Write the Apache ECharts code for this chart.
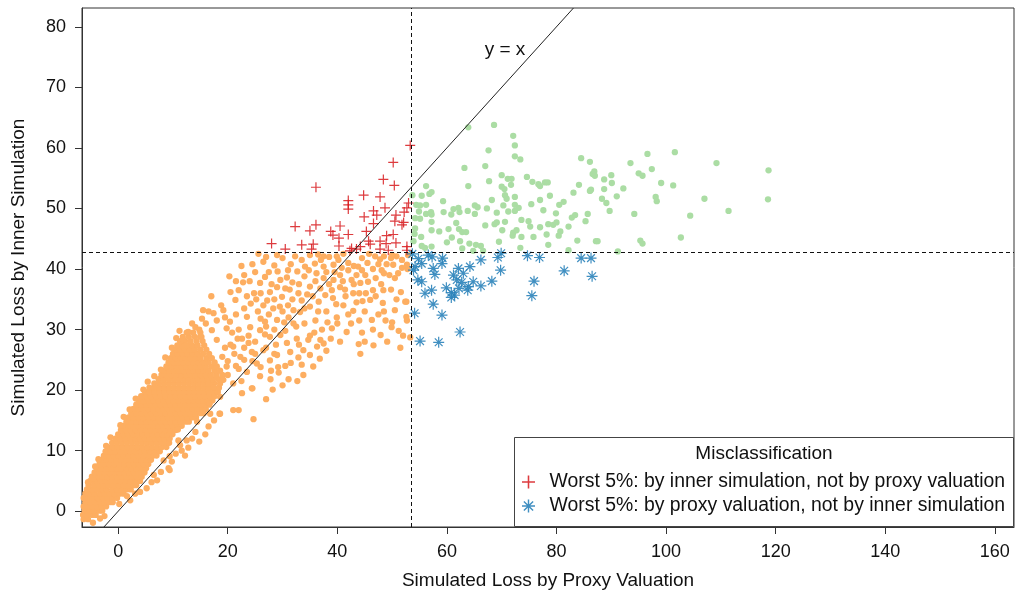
<!DOCTYPE html>
<html>
<head>
<meta charset="utf-8">
<script src="https://cdn.jsdelivr.net/npm/echarts@6.0.0/dist/echarts.min.js"></script>
<style>
  html, body { margin: 0; padding: 0; background: #fff; }
  #chart { width: 1016px; height: 597px; }
</style>
</head>
<body>
<div id="chart"></div>
<script>
// Worst-5% thresholds for each valuation method
const proxyCut = 53.5;
const innerCut = 42.8;

const xTicks = [0, 20, 40, 60, 80, 100, 120, 140, 160];
const yTicks = [0, 10, 20, 30, 40, 50, 60, 70, 80];
const xLimits = [-6.6, 163.5];
const yLimits = [-2.6, 83.1];

// Scenarios outside the worst 5% for both methods: dense core, one row per inner-loss level [y, x, x, ...]
const coreRows = [
  [-1.3, -6.3, -5.5],
  [-0.6, -6.4, -5.6, -4.7, -4.1],
  [0.1, -6.1, -5.2, -4.4, -3.4, -2.9],
  [0.8, -6.3, -5.6, -4.7, -3.8, -3.0, -2.2],
  [1.5, -6.0, -5.1, -4.2, -3.3, -2.5, -1.6, -1.0],
  [2.2, -6.3, -5.5, -4.6, -3.7, -2.8, -1.9, -1.1, -0.2],
  [2.9, -6.0, -5.1, -4.3, -3.3, -2.4, -1.5, -0.6, 0.3, 1.0],
  [3.6, -5.7, -4.7, -3.8, -2.9, -2.1, -1.1, -0.2, 0.7, 1.6, 2.3],
  [4.3, -5.4, -4.4, -3.5, -2.6, -1.7, -0.8, 0.1, 1.0, 1.9, 2.8, 3.3],
  [5.0, -5.1, -4.1, -3.2, -2.3, -1.4, -0.5, 0.4, 1.3, 2.2, 3.1, 4.0],
  [5.7, -4.8, -3.8, -2.9, -2.0, -1.1, -0.2, 0.7, 1.6, 2.5, 3.4, 4.3],
  [6.4, -4.3, -3.4, -2.5, -1.6, -0.7, 0.2, 1.1, 2.0, 2.9, 3.8, 4.8],
  [7.1, -3.9, -3.0, -2.1, -1.2, -0.3, 0.6, 1.5, 2.4, 3.3, 4.2, 5.1],
  [7.8, -3.4, -2.5, -1.6, -0.7, 0.2, 1.1, 2.0, 2.9, 3.8, 4.7, 5.5],
  [8.5, -3.0, -2.1, -1.2, -0.3, 0.6, 1.5, 2.4, 3.3, 4.2, 5.1, 6.0],
  [9.2, -2.6, -1.7, -0.8, 0.1, 1.0, 1.9, 2.8, 3.7, 4.6, 5.5, 6.4, 7.0],
  [9.9, -2.3, -1.4, -0.5, 0.4, 1.3, 2.2, 3.1, 4.0, 4.9, 5.8, 6.7, 7.6],
  [10.6, -1.9, -1.0, -0.1, 0.8, 1.7, 2.6, 3.5, 4.4, 5.3, 6.2, 7.1, 8.0, 8.8],
  [11.3, -1.1, -0.2, 0.7, 1.6, 2.5, 3.4, 4.3, 5.2, 6.1, 7.0, 7.9, 8.8, 9.3],
  [12.0, -0.5, 0.4, 1.3, 2.2, 3.1, 4.0, 4.9, 5.8, 6.7, 7.6, 8.5, 9.4],
  [12.7, 0.0, 0.9, 1.8, 2.7, 3.6, 4.5, 5.4, 6.3, 7.2, 8.1, 9.0, 9.9],
  [13.4, 0.5, 1.4, 2.3, 3.2, 4.1, 5.0, 5.9, 6.8, 7.7, 8.6, 9.5, 10.5],
  [14.1, 1.0, 1.9, 2.8, 3.7, 4.6, 5.5, 6.4, 7.3, 8.2, 9.1, 10.0, 10.9, 11.6],
  [14.8, 1.5, 2.4, 3.3, 4.2, 5.1, 6.0, 6.9, 7.8, 8.7, 9.6, 10.5, 11.4, 12.3, 12.9],
  [15.5, 1.9, 2.8, 3.7, 4.6, 5.5, 6.4, 7.3, 8.2, 9.1, 10.0, 10.9, 11.8, 12.7, 13.6, 14.2],
  [16.2, 2.4, 3.3, 4.2, 5.1, 6.0, 6.9, 7.8, 8.7, 9.6, 10.5, 11.4, 12.3, 13.2, 14.1, 15.0, 15.6],
  [16.9, 2.8, 3.7, 4.6, 5.5, 6.4, 7.3, 8.2, 9.1, 10.0, 10.9, 11.8, 12.7, 13.6, 14.5, 15.4, 16.0],
  [17.6, 3.3, 4.2, 5.1, 6.0, 6.9, 7.8, 8.7, 9.6, 10.5, 11.4, 12.3, 13.2, 14.1, 15.0, 15.9, 16.6],
  [18.3, 3.8, 4.7, 5.6, 6.5, 7.4, 8.3, 9.2, 10.1, 11.0, 11.9, 12.8, 13.7, 14.6, 15.5, 16.4, 17.2],
  [19.0, 4.2, 5.1, 6.0, 6.9, 7.8, 8.7, 9.6, 10.5, 11.4, 12.3, 13.2, 14.1, 15.0, 15.9, 16.8, 17.6],
  [19.7, 4.9, 5.8, 6.7, 7.6, 8.5, 9.4, 10.3, 11.2, 12.1, 13.0, 13.9, 14.8, 15.7, 16.6, 17.5, 18.2],
  [20.4, 5.7, 6.6, 7.5, 8.4, 9.3, 10.2, 11.1, 12.0, 12.9, 13.8, 14.7, 15.6, 16.5, 17.4, 18.4],
  [21.1, 6.6, 7.5, 8.4, 9.3, 10.2, 11.1, 12.0, 12.9, 13.8, 14.7, 15.6, 16.5, 17.5, 18.6],
  [21.8, 7.4, 8.3, 9.2, 10.1, 11.0, 11.9, 12.8, 13.7, 14.6, 15.5, 16.4, 17.3, 18.3],
  [22.5, 7.9, 8.8, 9.7, 10.6, 11.5, 12.4, 13.3, 14.2, 15.1, 16.0, 16.9, 17.9, 19.0],
  [23.2, 8.4, 9.3, 10.2, 11.1, 12.0, 12.9, 13.8, 14.7, 15.6, 16.5, 17.6, 18.6],
  [23.9, 8.8, 9.7, 10.6, 11.5, 12.4, 13.3, 14.2, 15.1, 16.0, 17.0, 18.0],
  [24.6, 9.2, 10.1, 11.0, 11.9, 12.8, 13.7, 14.6, 15.5, 16.5, 17.6],
  [25.3, 9.6, 10.5, 11.4, 12.3, 13.2, 14.1, 15.0, 16.1, 17.1],
  [26.0, 10.0, 10.9, 11.8, 12.7, 13.6, 14.5, 15.5, 16.6],
  [26.7, 10.4, 11.3, 12.2, 13.1, 14.0, 15.0, 16.1],
  [27.4, 10.8, 11.7, 12.6, 13.5, 14.5, 15.7],
  [28.1, 11.3, 12.2, 13.2, 14.3, 15.4],
  [28.8, 11.8, 12.9, 14.0, 15.2],
  [29.5, 12.5, 13.7, 15.0]
];

// Same group, scattered scenarios away from the core [x, y, x, y, ...]
const neitherOuter = [
  -4.6, -1.9, 1.6, 2.5, 3.1, 2.9, 6.1, 4.8, 7.1, 5.1, 9.2, 7.1, 9.4, 6.8, 8.3, 8.4,
  11.3, 10.9, 11.6, 10.0, 11.0, 11.7, 12.5, 11.7, 14.1, 13.1, 15.9, 12.7, 14.4, 14.8,
  16.8, 16.1, 18.6, 16.1, 21.0, 16.7, 22.0, 16.7, 24.7, 15.2, 24.5, 20.3, 28.2, 20.1,
  10.9, 13.5, 9.4, 9.1, -4.6, 5.4,
  25.6, 42.5, 20.3, 38.8, 29.1, 39.6, 32.7, 39.6, 34.1, 40.4, 35.9, 40.9, 37.5, 40.4,
  39.3, 40.7, 32.3, 42.1, 35.0, 42.3, 37.5, 42.1, 39.9, 42.1, 41.1, 42.5, 43.8, 40.4,
  44.5, 39.8, 46.9, 42.1, 47.8, 41.6, 48.5, 42.1, 49.8, 41.8, 50.8, 42.1, 51.1, 39.3,
  50.2, 40.7, 48.1, 39.8, 48.5, 39.3, 45.1, 39.0, 42.6, 38.2, 44.2, 37.7, 41.4, 36.6,
  42.9, 36.0, 45.6, 37.9, 48.4, 36.5, 49.8, 36.6, 51.6, 36.2, 52.6, 34.6, 48.3, 34.4,
  46.0, 34.9, 44.6, 34.7, 42.9, 33.1, 41.1, 34.0, 39.8, 34.2, 39.9, 32.0, 46.3, 31.6,
  49.9, 30.4, 51.2, 29.8, 53.3, 28.7, 47.9, 29.1, 49.1, 28.0, 46.6, 27.4, 43.9, 27.6,
  44.2, 26.0, 41.7, 29.6, 39.0, 30.2, 36.3, 27.2, 35.6, 23.9, 32.9, 25.4, 31.1, 21.8,
  32.7, 21.5, 29.3, 22.9, 25.9, 22.3, 24.4, 20.3, 18.5, 16.1, 27.9, 23.2, 27.7, 24.9,
  31.4, 26.3, 33.8, 26.6, 35.0, 25.8, 36.9, 28.3, 37.5, 27.7, 34.7, 28.3, 32.6, 28.5,
  29.6, 29.1, 27.7, 28.8, 25.9, 29.9, 24.1, 30.4, 22.6, 28.5, 26.8, 31.3, 29.0, 31.6,
  31.1, 32.0, 33.2, 32.9, 35.0, 33.8, 36.6, 34.6, 37.8, 35.7, 39.0, 36.5, 36.9, 36.8,
  35.0, 37.1, 32.9, 36.0, 31.3, 36.6, 29.9, 35.4, 27.7, 36.2, 25.9, 37.7, 24.8, 36.0,
  24.2, 34.3, 26.5, 34.0, 28.3, 33.5, 29.6, 38.2, 30.8, 38.6, 26.8, 38.7, 36.2, 39.3,
  37.5, 38.5, 39.3, 38.2, 40.5, 39.0, 21.4, 34.9, 17.4, 32.7, 19.2, 33.2, 15.3, 31.8,
  20.4, 31.3, 23.5, 32.1, 14.1, 30.4, 17.1, 29.9, 19.8, 30.2, 11.9, 28.3, 15.0, 28.8,
  18.0, 28.3, 21.0, 27.2, 24.4, 26.3, 26.5, 26.6, 22.3, 25.5, 25.3, 24.4, 19.8, 23.9,
  23.5, 23.0, 19.2, 21.7, 17.4, 20.5, 21.0, 21.1, 22.6, 19.5, 18.6, 18.9, 16.7, 17.8,
  22.0, 30.0, 23.0, 33.5, 21.5, 32.5, 25.0, 28.0, 27.0, 27.0, 28.5, 26.0, 23.0, 27.0,
  25.5, 33.0, 27.5, 32.5, 28.5, 35.0, 22.0, 36.5, 24.0, 38.0, 23.5, 35.5, 26.0, 36.0,
  29.0, 37.0, 27.0, 30.5, 20.8, 29.5, 22.0, 23.5, 24.5, 24.8, 26.0, 23.8, 28.8, 27.5,
  21.2, 26.0, 23.8, 29.0, 20.5, 36.2, 22.8, 37.8, 25.0, 39.5,
  31.0, 34.0, 32.5, 30.5, 34.0, 31.0, 36.0, 31.5, 38.0, 33.0, 30.5, 29.8, 33.5, 34.8,
  35.5, 35.5, 38.5, 37.5, 40.5, 37.0, 31.8, 37.8, 34.0, 38.8, 30.0, 33.0, 37.2, 30.0,
  38.8, 28.5, 40.0, 31.0, 35.8, 29.5, 33.0, 27.5, 30.3, 31.2, 41.5, 35.5, 40.2, 41.5,
  33.5, 41.5, 31.5, 40.8, 28.5, 40.6, 30.0, 41.8, 38.5, 42.0, 36.5, 42.4,
  42.0, 41.0, 43.0, 40.5, 45.5, 41.0, 46.5, 40.0, 47.0, 38.5, 44.0, 36.0, 43.5, 39.0,
  46.5, 36.5, 50.5, 38.5, 51.8, 41.5, 52.8, 40.0, 49.0, 40.8, 45.0, 33.0, 47.5, 32.5,
  50.5, 33.2, 52.7, 31.5, 48.8, 31.5, 42.5, 31.0, 44.5, 29.5, 51.5, 27.0, 52.7, 40.7,
  52.4, 34.6, 52.6, 32.1, 27.0, 18.5, 30.5, 24.0, 29.0, 25.8,
  12.8, 29.6, 13.5, 31.0, 14.8, 30.0, 16.0, 31.0, 16.5, 33.0, 18.0, 31.5, 18.8, 34.0,
  19.5, 32.0, 17.0, 35.5, 15.5, 33.2, 19.0, 25.5, 20.0, 24.8, 20.5, 27.5, 21.8, 28.5,
  22.5, 21.5, 23.0, 25.0, 20.0, 22.5, 21.5, 24.0, 19.5, 27.0,
  24.5, 40.8, 26.5, 41.2, 27.5, 39.5, 28.0, 37.5, 30.5, 36.8, 31.8, 35.0, 29.5, 33.8,
  27.2, 34.8, 25.2, 35.0, 23.0, 39.0, 21.5, 38.0, 22.5, 40.5, 27.0, 42.0, 29.0, 42.3,
  31.0, 39.8, 32.0, 33.2, 33.0, 37.5, 34.5, 35.8, 34.8, 39.8, 36.0, 38.0, 37.0, 41.5,
  38.0, 39.5, 39.5, 39.5, 40.8, 40.2, 42.0, 39.8, 43.0, 37.5, 44.5, 41.8, 45.8, 42.5,
  47.5, 40.8, 49.5, 39.0, 50.0, 42.3, 51.8, 40.2, 52.9, 42.3, 47.0, 35.5, 48.0, 37.5,
  50.8, 35.0, 43.5, 34.5, 45.2, 36.0, 41.0, 38.0, 39.2, 35.2, 36.5, 33.0, 34.0, 33.5,
  32.0, 31.0, 30.8, 27.8, 28.5, 30.0, 26.0, 31.8, 25.0, 26.0, 23.8, 27.8, 26.8, 29.2,
  29.2, 23.8, 31.5, 24.5, 33.5, 24.2, 35.0, 29.0, 38.2, 31.2, 42.0, 32.5, 44.0, 31.5,
  46.5, 30.0, 48.5, 33.0, 50.0, 31.2, 52.0, 29.0, 45.0, 28.0, 40.5, 28.0, 38.0, 26.5,
  33.8, 22.5, 30.0, 20.8, 36.8, 25.2, 27.8, 21.8,
  9.8, 8.2, 10.5, 9.5, 12.8, 10.5, 13.5, 12.0, 14.8, 11.5, 16.5, 14.0, 17.5, 15.0,
  12.2, 9.2, 7.8, 6.5, 6.5, 6.0, 5.2, 3.8, 4.0, 3.2, 2.2, 1.8, 0.2, 1.2, -2.5, -0.8,
  -3.3, -1.2, -5.5, 4.8, -4.2, 7.4, -3.6, 8.6, -2.2, 10.8, -1.4, 12.2, 0.4, 14.2,
  1.0, 15.6, 2.1, 16.8, 3.2, 18.6, 4.6, 20.1, 5.4, 21.4, 6.6, 22.3, 7.8, 23.4,
  8.6, 25.4, 9.8, 27.0, 10.6, 28.6, 11.2, 29.8
];

// Worst 5% under both methods [x, y, ...]
const bothWorst = [
  63.9, 63.4, 68.6, 63.8, 72.1, 62.0, 67.6, 59.6, 72.4, 60.4, 72.4, 58.6, 73.4, 58.1,
  67.0, 57.0, 63.2, 56.7, 84.5, 58.3, 70.0, 55.5, 71.1, 54.9, 71.8, 54.9, 74.6, 55.2,
  67.7, 54.5, 75.6, 54.4, 63.9, 53.7, 70.0, 53.6, 70.5, 53.2, 71.7, 53.9, 76.7, 54.0,
  77.0, 53.7, 77.9, 54.3, 78.4, 54.3, 84.1, 53.9, 86.1, 52.9, 56.2, 53.7, 57.2, 52.7,
  56.8, 52.4, 55.4, 52.1, 53.7, 52.2, 70.6, 52.2, 70.9, 51.6, 72.4, 51.9, 77.0, 51.4,
  78.8, 52.1, 83.1, 52.6, 54.4, 50.6, 55.1, 50.5, 56.2, 50.6, 59.3, 51.2, 62.1, 50.1,
  61.2, 49.9, 65.1, 50.5, 65.6, 50.2, 67.3, 50.0, 68.2, 51.4, 70.3, 50.5, 72.4, 50.6,
  73.1, 50.1, 75.4, 50.7, 80.5, 50.6, 81.3, 51.1, 54.9, 49.5, 56.2, 49.1, 57.1, 49.4,
  57.2, 49.0, 59.4, 49.4, 60.8, 49.0, 62.3, 49.4, 63.8, 49.6, 65.1, 49.1, 69.1, 49.3,
  71.2, 49.5, 72.4, 49.6, 77.6, 49.7, 79.9, 49.2, 82.8, 48.5, 83.4, 48.9, 85.7, 49.1,
  54.2, 48.4, 55.1, 48.3, 57.2, 47.8, 61.7, 47.6, 60.3, 46.6, 62.2, 46.6, 62.8, 46.1,
  63.5, 46.1, 67.0, 47.2, 68.7, 47.4, 69.1, 47.7, 70.6, 47.8, 70.1, 46.4, 72.1, 46.0,
  72.7, 46.4, 73.6, 48.1, 74.9, 47.9, 75.2, 47.0, 77.0, 46.9, 78.5, 47.4, 79.4, 47.3,
  80.0, 47.7, 80.7, 46.2, 82.2, 47.0, 85.3, 47.9, 54.2, 46.7, 54.1, 45.8, 57.2, 46.4,
  58.6, 46.2, 55.3, 45.3, 60.9, 45.2, 60.0, 44.4, 62.4, 44.6, 64.1, 44.2, 65.3, 44.0,
  66.2, 43.8, 72.0, 45.5, 73.6, 45.3, 75.8, 45.3, 78.2, 45.7, 78.5, 44.0, 80.4, 45.5,
  83.8, 44.7, 53.9, 44.6, 55.4, 43.8, 56.0, 43.5, 57.2, 43.7, 62.8, 43.4, 64.8, 43.0,
  69.5, 44.5, 73.4, 43.5, 82.2, 43.1, 66.6, 43.0,
  86.1, 57.7, 86.9, 56.1, 86.6, 55.7, 87.0, 55.4, 88.7, 54.8, 90.0, 55.5, 90.1, 54.2,
  88.7, 53.2, 86.3, 53.1, 92.2, 53.3, 93.5, 57.5, 96.6, 59.0, 101.6, 59.3, 95.0, 55.8,
  95.7, 55.4, 97.4, 56.5, 99.1, 54.2, 101.3, 53.8, 109.2, 57.5, 118.7, 56.3, 91.0, 52.0,
  88.3, 51.6, 89.1, 50.9, 98.1, 51.9, 98.3, 51.2, 107.0, 51.6, 118.6, 51.5, 89.7, 49.6,
  94.2, 49.1, 104.4, 48.8, 111.4, 49.6, 87.2, 44.6, 87.5, 44.6, 95.3, 44.7, 95.7, 44.2,
  102.7, 45.2, 91.2, 42.9
];

// Worst 5% by inner simulation only [x, y, ...]
const innerOnly = [
  53.3, 60.4, 50.2, 57.6, 48.4, 54.8, 50.4, 53.8, 36.1, 53.5, 44.8, 52.2, 47.8, 51.9,
  42.0, 51.3, 42.0, 50.6, 42.0, 49.9, 53.0, 50.9, 52.7, 50.1, 48.7, 50.1, 46.6, 49.6,
  47.2, 48.9, 52.2, 49.4, 44.9, 48.6, 50.7, 48.9, 46.6, 47.5, 50.5, 47.9, 52.1, 47.7,
  51.8, 47.3, 36.1, 47.3, 32.3, 47.0, 40.5, 47.1, 35.0, 46.3, 38.8, 46.2, 39.2, 45.6,
  42.0, 45.7, 45.3, 46.2, 50.2, 45.7, 49.0, 45.5, 40.3, 45.1, 45.7, 44.6, 47.8, 44.6,
  46.0, 44.1, 48.9, 44.2, 50.7, 44.3, 28.0, 44.2, 33.5, 44.0, 35.6, 44.1, 40.3, 43.8,
  44.2, 43.7, 35.3, 43.3, 30.5, 43.3, 42.6, 43.4, 43.5, 43.3, 47.8, 43.3, 49.3, 43.1,
  52.7, 43.1, 52.7, 43.7, 42.3, 43.0
];

// Worst 5% by proxy valuation only [x, y, ...]
const proxyOnly = [
  53.7, 42.5, 69.9, 42.6, 54.8, 41.7, 56.6, 42.3, 57.3, 42.0, 59.2, 41.8, 66.2, 41.5,
  69.3, 41.9, 74.7, 42.2, 76.9, 41.9, 84.5, 41.8, 86.3, 41.8, 55.4, 40.9, 59.1, 40.9,
  53.9, 39.8, 54.2, 40.4, 57.5, 40.1, 62.1, 40.1, 64.2, 40.4, 69.8, 39.8, 81.4, 39.7,
  86.5, 38.8, 57.8, 39.1, 61.2, 39.0, 63.0, 39.3, 54.7, 38.2, 55.4, 37.9, 61.8, 38.2,
  62.7, 37.8, 64.8, 37.9, 68.2, 38.0, 75.9, 38.0, 63.9, 37.1, 66.2, 37.2, 59.9, 36.9,
  57.2, 36.5, 60.8, 36.1, 62.2, 36.8, 56.0, 36.0, 63.8, 36.5, 61.4, 35.7, 75.5, 35.6,
  60.8, 35.3, 57.5, 34.2, 54.1, 32.7, 59.1, 32.4, 62.4, 29.6, 55.1, 28.1, 58.5, 27.9
];

const innerName = 'Worst 5%: by inner simulation, not by proxy valuation';
const proxyName = 'Worst 5%: by proxy valuation, not by inner simulation';

function pairs(flat) {
  const out = [];
  for (let i = 0; i < flat.length; i += 2) out.push([flat[i], flat[i + 1]]);
  return out;
}
function rowsToPairs(rows) {
  const out = [];
  rows.forEach(r => { for (let i = 1; i < r.length; i++) out.push([r[i], r[0]]); });
  return out;
}

const FONT = '"Liberation Sans", Arial, Helvetica, sans-serif';
const plusPath = 'path://M4.4,0L5.6,0L5.6,4.4L10,4.4L10,5.6L5.6,5.6L5.6,10L4.4,10L4.4,5.6L0,5.6L0,4.4L4.4,4.4Z';
const starPath = 'path://M4.45,0L5.55,0L5.55,10L4.45,10Z M0,4.45L10,4.45L10,5.55L0,5.55Z ' +
  'M1.85,1.07L8.93,8.15L8.15,8.93L1.07,1.85Z M8.15,1.07L8.93,1.85L1.85,8.93L1.07,8.15Z';

const chart = echarts.init(document.getElementById('chart'), null, { renderer: 'canvas' });

const axisCommon = {
  type: 'value',
  nameLocation: 'middle',
  nameTextStyle: { fontSize: 19, color: '#111', fontFamily: FONT },
  axisLine: { show: true, onZero: false, lineStyle: { color: '#333', width: 1 } },
  splitLine: { show: false }
};

chart.setOption({
  animation: false,
  backgroundColor: '#fff',
  textStyle: { fontFamily: FONT },
  grid: {
    left: 82, right: 2, top: 8, bottom: 70,
    show: true, borderColor: '#333', borderWidth: 1, backgroundColor: 'transparent'
  },
  xAxis: Object.assign({}, axisCommon, {
    min: xLimits[0], max: xLimits[1],
    name: 'Simulated Loss by Proxy Valuation', nameGap: 44,
    axisTick: { show: true, inside: false, length: 7, customValues: xTicks, lineStyle: { color: '#333' } },
    axisLabel: { customValues: xTicks, fontSize: 18, color: '#111', margin: 16, fontFamily: FONT }
  }),
  yAxis: Object.assign({}, axisCommon, {
    min: yLimits[0], max: yLimits[1],
    name: 'Simulated Loss by Inner Simulation', nameGap: 54,
    axisTick: { show: true, inside: false, length: 7, customValues: yTicks, lineStyle: { color: '#333' } },
    axisLabel: { customValues: yTicks, fontSize: 18, color: '#111', margin: 16, fontFamily: FONT }
  }),
  legend: {
    data: [innerName, proxyName],
    orient: 'vertical', left: 522, top: 472, padding: 0,
    itemWidth: 32, itemHeight: 13, itemGap: 4,
    selectedMode: false, z: 6,
    textStyle: { fontSize: 19.4, color: '#111', fontFamily: FONT, lineHeight: 20 }
  },
  graphic: [
    { type: 'rect', z: 5, shape: { x: 514.5, y: 437.5, width: 499, height: 89 },
      style: { fill: '#fff', stroke: '#444', lineWidth: 1 } },
    { type: 'text', z: 7, x: 764, y: 454,
      style: { text: 'Misclassification', fill: '#111', font: '19px ' + FONT,
               textAlign: 'center', textVerticalAlign: 'middle' } }
  ],
  series: [
    {
      name: 'neither', type: 'scatter', symbol: 'circle', symbolSize: 6.3,
      itemStyle: { color: '#FDAE61', opacity: 1 },
      data: rowsToPairs(coreRows).concat(pairs(neitherOuter)), z: 2
    },
    {
      name: 'both', type: 'scatter', symbol: 'circle', symbolSize: 6.3,
      itemStyle: { color: '#ABDDA4', opacity: 1 },
      data: pairs(bothWorst), z: 2
    },
    {
      name: innerName, type: 'scatter', symbol: plusPath, symbolSize: 10,
      itemStyle: { color: '#D7191C', opacity: 0.85 },
      data: pairs(innerOnly), z: 3
    },
    {
      name: proxyName, type: 'scatter', symbol: starPath, symbolSize: 11,
      itemStyle: { color: '#2B83BA', opacity: 0.9 },
      data: pairs(proxyOnly), z: 3
    },
    {
      name: 'identity', type: 'line', symbol: 'none', clip: true, z: 4, silent: true,
      lineStyle: { color: '#222', width: 1 },
      data: [[yLimits[0], yLimits[0]], [yLimits[1], yLimits[1]]],
      markPoint: {
        symbol: 'circle', symbolSize: 0, silent: true,
        label: { show: true, position: 'inside', formatter: 'y = x', fontSize: 19, color: '#111', fontFamily: FONT },
        data: [{ coord: [70.6, 76.2] }]
      },
      markLine: {
        silent: true, symbol: 'none', animation: false,
        label: { show: false },
        lineStyle: { color: '#111', width: 1, type: [4, 3] },
        data: [{ xAxis: proxyCut }, { yAxis: innerCut }]
      }
    }
  ]
});
</script>
</body>
</html>
